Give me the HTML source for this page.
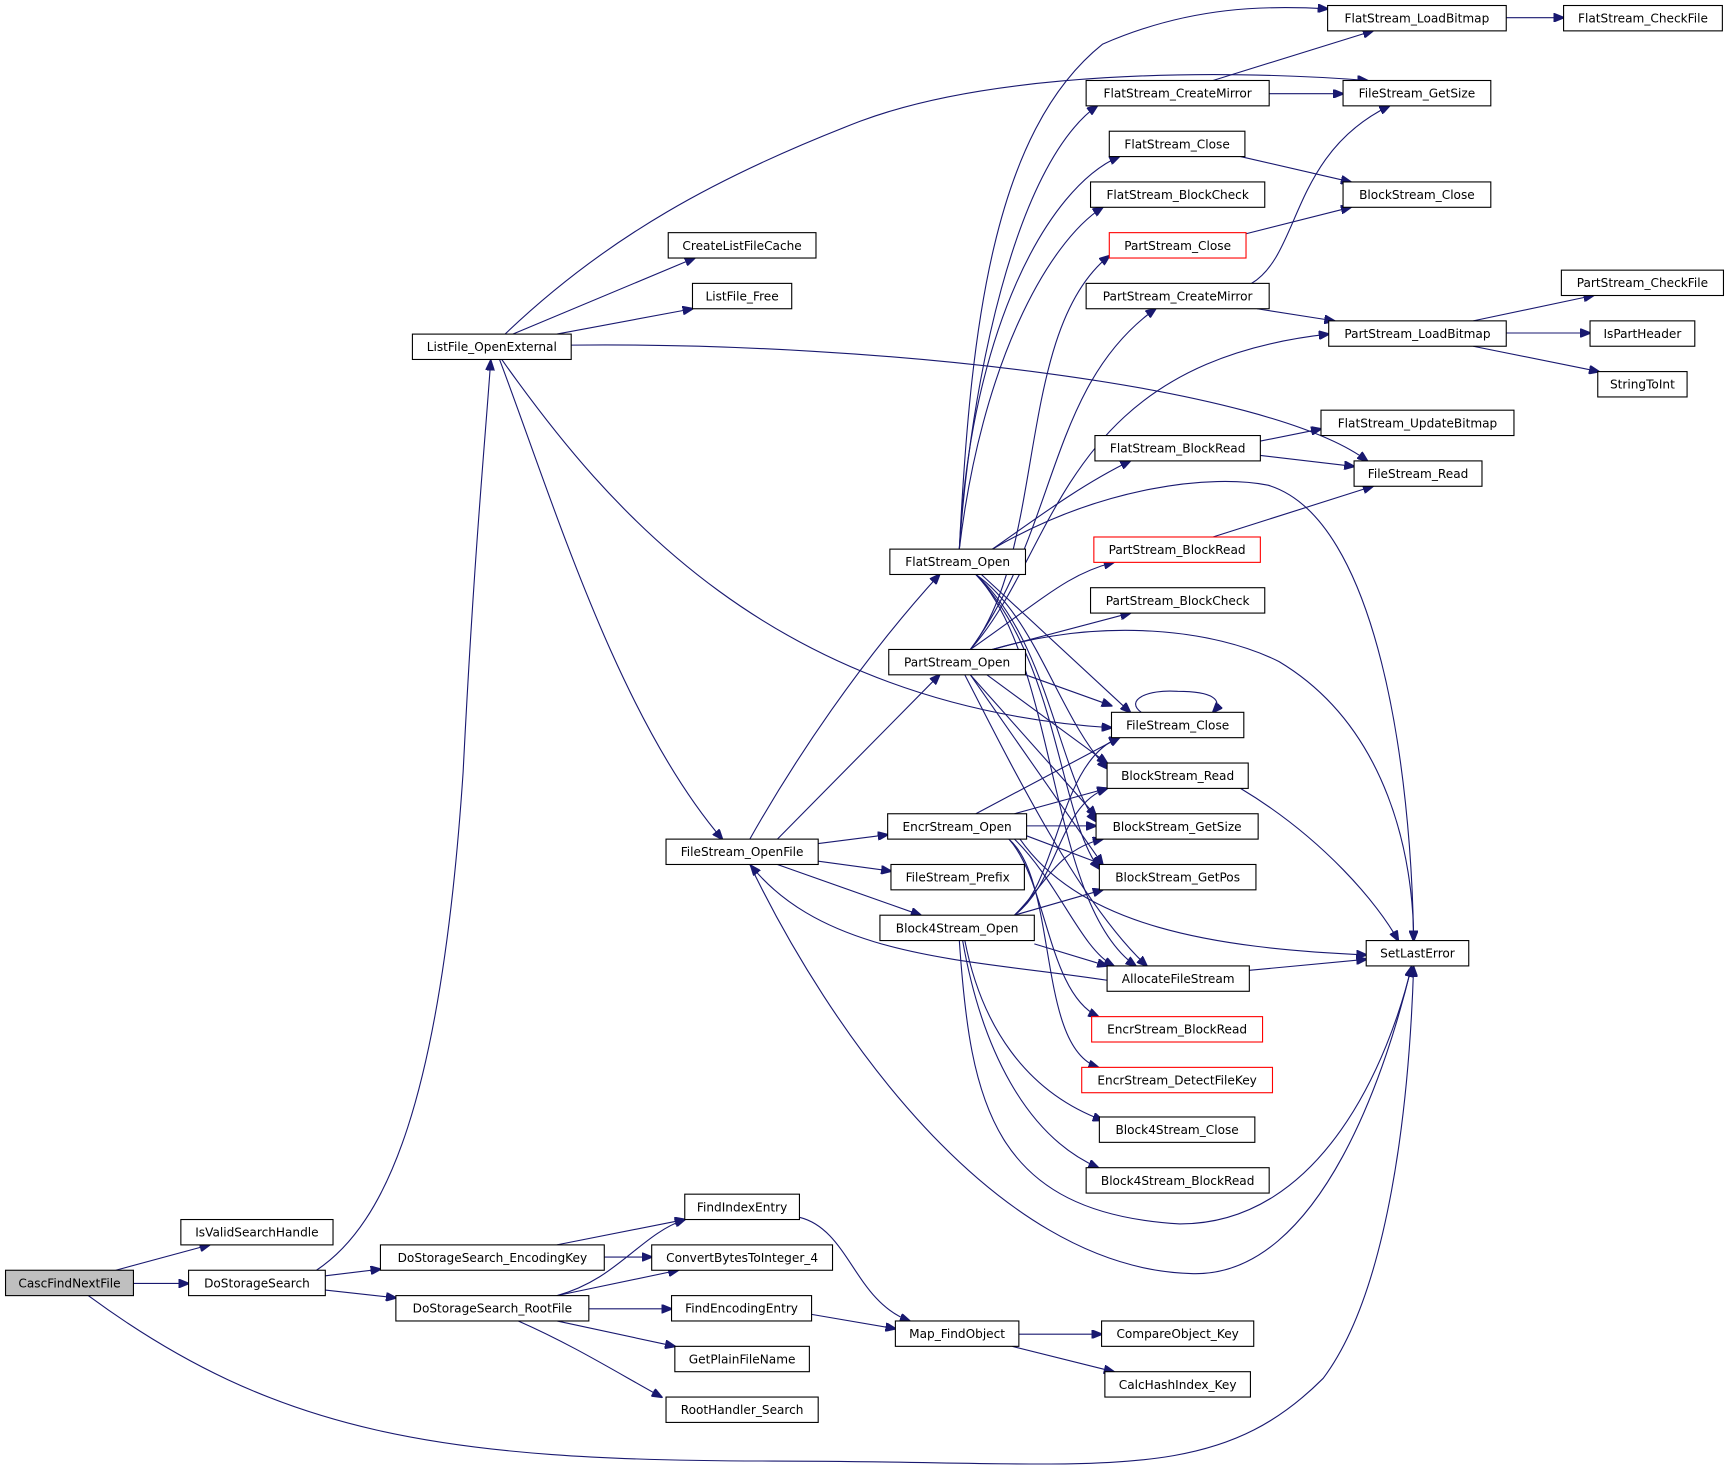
<!DOCTYPE html>
<html><head><meta charset="utf-8"><style>
html,body{margin:0;padding:0;background:#fff;}
svg{display:block;}
text{font-family:"DejaVu Sans","Liberation Sans",sans-serif;font-size:11px;fill:#000;}
.n rect{fill:#fff;stroke:#000;stroke-width:1;}
.r rect{stroke:#f00;}
path.e{fill:none;stroke:#191970;stroke-width:1;marker-end:url(#a);}
</style></head><body>
<svg width="1729" height="1477" viewBox="0 0 1568 1339.5" xmlns="http://www.w3.org/2000/svg">
<defs><marker id="a" markerWidth="10" markerHeight="8" refX="9" refY="4" orient="auto" markerUnits="userSpaceOnUse"><path d="M0,0 L10,4 L0,8 z" fill="#191970" stroke="#191970"/></marker></defs>
<g>
<path class="e" d="M105,1152 L190,1129"/>
<path class="e" d="M121,1164 L171,1164"/>
<path class="e" d="M80,1175 C250,1300 400,1325 700,1325 C1000,1325 1100,1350 1200,1250 C1260,1170 1278,1000 1282,877"/>
<path class="e" d="M287,1152 C350,1110 400,1000 420,700 C430,500 440,400 445,327"/>
<path class="e" d="M295,1157 L345,1151"/>
<path class="e" d="M295,1170 L359,1177"/>
<path class="e" d="M505,1129 L621,1106"/>
<path class="e" d="M548,1140 L591,1140"/>
<path class="e" d="M505,1175 C560,1160 580,1120 621,1106"/>
<path class="e" d="M505,1175 L615,1152"/>
<path class="e" d="M534,1187 L609,1187"/>
<path class="e" d="M505,1198 L612,1221"/>
<path class="e" d="M470,1198 C520,1220 560,1245 600,1267"/>
<path class="e" d="M725,1104 C770,1115 775,1180 825,1198"/>
<path class="e" d="M736,1192 L812,1205"/>
<path class="e" d="M924,1210 L999,1210"/>
<path class="e" d="M918,1221 L1010,1244"/>
<path class="e" d="M458,303 C550,215 650,160 780,110 C900,65 1100,62 1240,73"/>
<path class="e" d="M465,303 L630,234"/>
<path class="e" d="M505,303 L628,280"/>
<path class="e" d="M518,313 C800,310 1150,350 1240,418"/>
<path class="e" d="M453,326 C500,450 560,650 655,761"/>
<path class="e" d="M455,326 C550,460 700,640 1008,660"/>
<path class="e" d="M680,761 C720,690 780,600 852,521"/>
<path class="e" d="M705,761 L852,612"/>
<path class="e" d="M742,765 L805,757"/>
<path class="e" d="M742,781 L808,790"/>
<path class="e" d="M705,784 L835,830"/>
<path class="e" d="M680,784 C750,930 900,1150 1080,1155 C1200,1160 1260,960 1280,877"/>
<path class="e" d="M1004,889 C880,870 750,870 681,785"/>
<path class="e" d="M870,498 C880,300 900,120 1000,40 C1080,5 1150,5 1204,8"/>
<path class="e" d="M870,498 C880,350 920,150 995,96"/>
<path class="e" d="M870,498 C880,300 950,170 1015,142"/>
<path class="e" d="M870,498 C890,330 950,220 1000,188"/>
<path class="e" d="M900,498 C940,470 980,440 1025,418"/>
<path class="e" d="M890,521 L1025,646"/>
<path class="e" d="M885,521 C940,560 960,650 1004,697"/>
<path class="e" d="M885,521 C950,580 960,700 994,745"/>
<path class="e" d="M885,521 C960,600 960,740 997,788"/>
<path class="e" d="M885,521 C960,600 950,820 1030,876"/>
<path class="e" d="M900,498 C1000,440 1100,430 1150,440 C1250,470 1280,700 1282,853"/>
<path class="e" d="M1100,73 L1245,28"/>
<path class="e" d="M1151,85 L1218,85"/>
<path class="e" d="M1366,16 L1418,16"/>
<path class="e" d="M1125,142 L1225,165"/>
<path class="e" d="M1130,212 L1225,188"/>
<path class="e" d="M1135,257 C1180,230 1170,140 1260,96"/>
<path class="e" d="M1140,280 L1210,291"/>
<path class="e" d="M1336,291 L1445,268"/>
<path class="e" d="M1366,302 L1442,302"/>
<path class="e" d="M1336,314 L1450,337"/>
<path class="e" d="M1143,400 L1198,389"/>
<path class="e" d="M1143,413 L1228,423"/>
<path class="e" d="M1100,487 L1245,441"/>
<path class="e" d="M880,589 C950,500 920,300 1006,232"/>
<path class="e" d="M880,589 C960,480 950,350 1048,280"/>
<path class="e" d="M880,589 C960,500 960,330 1205,303"/>
<path class="e" d="M880,589 C950,540 970,520 1010,510"/>
<path class="e" d="M900,589 L1025,556"/>
<path class="e" d="M930,612 L1008,640"/>
<path class="e" d="M900,589 C1000,560 1100,570 1160,600 C1260,660 1282,780 1282,853"/>
<path class="e" d="M895,612 L1004,692"/>
<path class="e" d="M880,612 L994,740"/>
<path class="e" d="M880,612 L1000,784"/>
<path class="e" d="M875,612 C920,700 980,820 1040,876"/>
<path class="e" d="M1035,646 C1020,635 1040,625 1068,627 C1100,627 1110,635 1100,646"/>
<path class="e" d="M885,738 L1015,669"/>
<path class="e" d="M920,738 L1004,715"/>
<path class="e" d="M931,749 L994,749"/>
<path class="e" d="M931,758 L1000,784"/>
<path class="e" d="M925,761 C980,840 1100,860 1239,866"/>
<path class="e" d="M920,761 C960,800 980,860 1010,876"/>
<path class="e" d="M915,761 C950,800 950,900 996,922"/>
<path class="e" d="M915,761 C960,800 940,950 996,968"/>
<path class="e" d="M920,830 C960,800 960,690 1015,669"/>
<path class="e" d="M920,830 C960,800 960,730 1004,715"/>
<path class="e" d="M920,830 C950,800 960,770 1000,761"/>
<path class="e" d="M920,830 L1000,807"/>
<path class="e" d="M938,856 L1004,876"/>
<path class="e" d="M875,853 C890,930 930,990 1000,1016"/>
<path class="e" d="M873,853 C890,950 930,1030 996,1059"/>
<path class="e" d="M870,853 C880,1000 900,1100 1070,1110 C1200,1110 1260,960 1280,877"/>
<path class="e" d="M1125,715 C1200,760 1250,820 1268,853"/>
<path class="e" d="M1133,880 L1239,870"/>
</g>
<g class="n">
<g><rect x="5" y="1152" width="116" height="23" style="fill:#bfbfbf"/><text x="63" y="1167.5" text-anchor="middle">CascFindNextFile</text></g>
<g><rect x="164" y="1106" width="138" height="23"/><text x="233" y="1121.5" text-anchor="middle">IsValidSearchHandle</text></g>
<g><rect x="171" y="1152" width="124" height="23"/><text x="233" y="1167.5" text-anchor="middle">DoStorageSearch</text></g>
<g><rect x="345" y="1129" width="203" height="23"/><text x="446.5" y="1144.5" text-anchor="middle">DoStorageSearch_EncodingKey</text></g>
<g><rect x="359" y="1175" width="175" height="23"/><text x="446.5" y="1190.5" text-anchor="middle">DoStorageSearch_RootFile</text></g>
<g><rect x="621" y="1083" width="104" height="23"/><text x="673" y="1098.5" text-anchor="middle">FindIndexEntry</text></g>
<g><rect x="591" y="1129" width="164" height="23"/><text x="673" y="1144.5" text-anchor="middle">ConvertBytesToInteger_4</text></g>
<g><rect x="609" y="1175" width="127" height="23"/><text x="672.5" y="1190.5" text-anchor="middle">FindEncodingEntry</text></g>
<g><rect x="612" y="1221" width="122" height="23"/><text x="673" y="1236.5" text-anchor="middle">GetPlainFileName</text></g>
<g><rect x="604" y="1267" width="138" height="23"/><text x="673" y="1282.5" text-anchor="middle">RootHandler_Search</text></g>
<g><rect x="812" y="1198" width="112" height="23"/><text x="868" y="1213.5" text-anchor="middle">Map_FindObject</text></g>
<g><rect x="999" y="1198" width="138" height="23"/><text x="1068" y="1213.5" text-anchor="middle">CompareObject_Key</text></g>
<g><rect x="1002" y="1244" width="132" height="23"/><text x="1068" y="1259.5" text-anchor="middle">CalcHashIndex_Key</text></g>
<g><rect x="374" y="303" width="144" height="23"/><text x="446" y="318.5" text-anchor="middle">ListFile_OpenExternal</text></g>
<g><rect x="606" y="211" width="134" height="23"/><text x="673" y="226.5" text-anchor="middle">CreateListFileCache</text></g>
<g><rect x="628" y="257" width="90" height="23"/><text x="673" y="272.5" text-anchor="middle">ListFile_Free</text></g>
<g><rect x="604" y="761" width="138" height="23"/><text x="673" y="776.5" text-anchor="middle">FileStream_OpenFile</text></g>
<g><rect x="807" y="498" width="123" height="23"/><text x="868.5" y="513.5" text-anchor="middle">FlatStream_Open</text></g>
<g><rect x="806" y="589" width="124" height="23"/><text x="868" y="604.5" text-anchor="middle">PartStream_Open</text></g>
<g><rect x="805" y="738" width="126" height="23"/><text x="868" y="753.5" text-anchor="middle">EncrStream_Open</text></g>
<g><rect x="808" y="784" width="121" height="23"/><text x="868.5" y="799.5" text-anchor="middle">FileStream_Prefix</text></g>
<g><rect x="798" y="830" width="140" height="23"/><text x="868" y="845.5" text-anchor="middle">Block4Stream_Open</text></g>
<g><rect x="1204" y="5" width="162" height="23"/><text x="1285" y="20.5" text-anchor="middle">FlatStream_LoadBitmap</text></g>
<g><rect x="1418" y="5" width="144" height="23"/><text x="1490" y="20.5" text-anchor="middle">FlatStream_CheckFile</text></g>
<g><rect x="985" y="73" width="166" height="23"/><text x="1068" y="88.5" text-anchor="middle">FlatStream_CreateMirror</text></g>
<g><rect x="1218" y="73" width="134" height="23"/><text x="1285" y="88.5" text-anchor="middle">FileStream_GetSize</text></g>
<g><rect x="1006" y="119" width="123" height="23"/><text x="1067.5" y="134.5" text-anchor="middle">FlatStream_Close</text></g>
<g><rect x="1218" y="165" width="134" height="23"/><text x="1285" y="180.5" text-anchor="middle">BlockStream_Close</text></g>
<g><rect x="989" y="165" width="158" height="23"/><text x="1068" y="180.5" text-anchor="middle">FlatStream_BlockCheck</text></g>
<g class="r"><rect x="1006" y="211" width="124" height="23"/><text x="1068" y="226.5" text-anchor="middle">PartStream_Close</text></g>
<g><rect x="985" y="257" width="166" height="23"/><text x="1068" y="272.5" text-anchor="middle">PartStream_CreateMirror</text></g>
<g><rect x="1416" y="245" width="147" height="23"/><text x="1489.5" y="260.5" text-anchor="middle">PartStream_CheckFile</text></g>
<g><rect x="1205" y="291" width="161" height="23"/><text x="1285.5" y="306.5" text-anchor="middle">PartStream_LoadBitmap</text></g>
<g><rect x="1442" y="291" width="95" height="23"/><text x="1489.5" y="306.5" text-anchor="middle">IsPartHeader</text></g>
<g><rect x="1449" y="337" width="81" height="23"/><text x="1489.5" y="352.5" text-anchor="middle">StringToInt</text></g>
<g><rect x="1198" y="372" width="175" height="23"/><text x="1285.5" y="387.5" text-anchor="middle">FlatStream_UpdateBitmap</text></g>
<g><rect x="993" y="395" width="150" height="23"/><text x="1068" y="410.5" text-anchor="middle">FlatStream_BlockRead</text></g>
<g><rect x="1228" y="418" width="116" height="23"/><text x="1286" y="433.5" text-anchor="middle">FileStream_Read</text></g>
<g class="r"><rect x="992" y="487" width="151" height="23"/><text x="1067.5" y="502.5" text-anchor="middle">PartStream_BlockRead</text></g>
<g><rect x="989" y="533" width="158" height="23"/><text x="1068" y="548.5" text-anchor="middle">PartStream_BlockCheck</text></g>
<g><rect x="1008" y="646" width="120" height="23"/><text x="1068" y="661.5" text-anchor="middle">FileStream_Close</text></g>
<g><rect x="1004" y="692" width="128" height="23"/><text x="1068" y="707.5" text-anchor="middle">BlockStream_Read</text></g>
<g><rect x="994" y="738" width="147" height="23"/><text x="1067.5" y="753.5" text-anchor="middle">BlockStream_GetSize</text></g>
<g><rect x="997" y="784" width="142" height="23"/><text x="1068" y="799.5" text-anchor="middle">BlockStream_GetPos</text></g>
<g><rect x="1239" y="853" width="93" height="23"/><text x="1285.5" y="868.5" text-anchor="middle">SetLastError</text></g>
<g><rect x="1004" y="876" width="129" height="23"/><text x="1068.5" y="891.5" text-anchor="middle">AllocateFileStream</text></g>
<g class="r"><rect x="990" y="922" width="155" height="23"/><text x="1067.5" y="937.5" text-anchor="middle">EncrStream_BlockRead</text></g>
<g class="r"><rect x="981" y="968" width="173" height="23"/><text x="1067.5" y="983.5" text-anchor="middle">EncrStream_DetectFileKey</text></g>
<g><rect x="997" y="1013" width="141" height="23"/><text x="1067.5" y="1028.5" text-anchor="middle">Block4Stream_Close</text></g>
<g><rect x="985" y="1059" width="166" height="23"/><text x="1068" y="1074.5" text-anchor="middle">Block4Stream_BlockRead</text></g>
</g>
</svg>
</body></html>
